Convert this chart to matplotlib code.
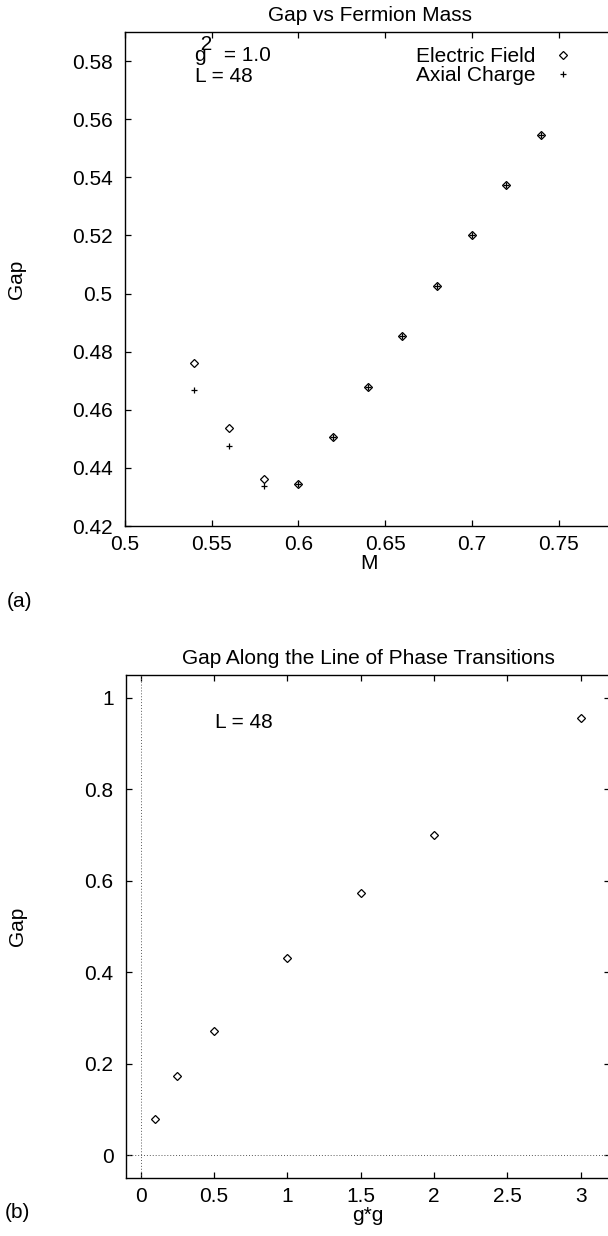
import matplotlib
matplotlib.use("Agg")
import matplotlib.pyplot as plt
from matplotlib.ticker import FuncFormatter, MultipleLocator

# panel (a): gap vs fermion mass, g^2 = 1.0, L = 48
mass = [0.54, 0.56, 0.58, 0.60, 0.62, 0.64, 0.66, 0.68, 0.70, 0.72, 0.74]
gap_electric = [0.4762, 0.4538, 0.4363, 0.4344, 0.4505, 0.4679, 0.4853, 0.5027, 0.5200, 0.5374, 0.5547]
gap_axial = [0.4668, 0.4477, 0.4337, 0.4344, 0.4505, 0.4679, 0.4853, 0.5027, 0.5200, 0.5374, 0.5547]

# panel (b): gap along the line of phase transitions, L = 48
coupling = [0.1, 0.25, 0.5, 1.0, 1.5, 2.0, 3.0]
gap_line = [0.080, 0.172, 0.271, 0.431, 0.574, 0.701, 0.955]

W, H = 608, 1236
FS = 15
plt.rcParams["font.family"] = ["Liberation Sans", "DejaVu Sans"]
plt.rcParams["font.size"] = FS


def fx(x):
    return x / W


def fy(y):
    return 1 - y / H


def gfmt(v, _):
    return f"{v:g}" if abs(v) > 1e-9 else "0"


def style_axes(ax):
    for s in ax.spines.values():
        s.set_linewidth(1.0)
    ax.tick_params(direction="in", length=4.5, width=0.9, top=True, right=True,
                   labelsize=FS)
    ax.tick_params(axis="x", pad=6.5)
    ax.tick_params(axis="y", pad=9)
    ax.xaxis.set_major_formatter(FuncFormatter(gfmt))
    ax.yaxis.set_major_formatter(FuncFormatter(gfmt))


fig = plt.figure(figsize=(W / 100, H / 100), dpi=100)

# ---- panel (a)
left, right, top, bottom = 125, 614, 32, 526
ax1 = fig.add_axes([fx(left), fy(bottom), (right - left) / W, (bottom - top) / H])
ax1.plot(mass, gap_electric, ls="none", marker="D", ms=3.7, mfc="white", mec="black",
         mew=0.9, label="Electric Field")
ax1.plot(mass, gap_axial, ls="none", marker="+", ms=5, mec="black", mew=0.9,
         label="Axial Charge")
ax1.set_xlim(0.5, 0.5 + (right - left) / 86.7 * 0.05)
ax1.set_ylim(0.42, 0.59)
ax1.xaxis.set_major_locator(MultipleLocator(0.05))
ax1.yaxis.set_major_locator(MultipleLocator(0.02))
style_axes(ax1)
ax1.set_title("Gap vs Fermion Mass", fontsize=FS, pad=8)
ax1.set_xlabel("M", fontsize=FS, labelpad=0)
ax1.set_ylabel("Gap", fontsize=FS, va="center")
ax1.yaxis.set_label_coords((17 - left) / (right - left), 0.5)
ax1.legend(loc="upper right", bbox_to_anchor=(fx(573), fy(47)),
           bbox_transform=fig.transFigure, frameon=False, markerfirst=False,
           handlelength=1.0, handletextpad=0.8, labelspacing=0.0,
           borderpad=0, borderaxespad=0, fontsize=FS)
# gnuplot-style exponent sitting above the g
fig.text(fx(195), fy(65), " 2\ng   = 1.0", fontsize=FS, ha="left", va="bottom",
         linespacing=0.5)
fig.text(fx(195), fy(77), "L = 48", fontsize=FS, ha="left", va="center")
fig.text(fx(7), fy(602), "(a)", fontsize=FS, ha="left", va="center")

# ---- panel (b)
left, right, top, bottom = 126, 610, 675, 1178
ax2 = fig.add_axes([fx(left), fy(bottom), (right - left) / W, (bottom - top) / H])
ax2.axhline(0, color="0.35", lw=0.7, ls=(0, (1, 2)))
ax2.axvline(0, color="0.35", lw=0.7, ls=(0, (1, 2)))
ax2.plot(coupling, gap_line, ls="none", marker="D", ms=3.7, mfc="white", mec="black",
         mew=0.9)
ax2.set_xlim(-0.1, 3.2)
ax2.set_ylim(-0.05, 1.05)
ax2.xaxis.set_major_locator(MultipleLocator(0.5))
ax2.yaxis.set_major_locator(MultipleLocator(0.2))
style_axes(ax2)
ax2.set_title("Gap Along the Line of Phase Transitions", fontsize=FS, pad=8)
ax2.set_xlabel("g*g", fontsize=FS, labelpad=0)
ax2.set_ylabel("Gap", fontsize=FS, va="center")
ax2.yaxis.set_label_coords((17 - left) / (right - left), 0.5)
fig.text(fx(215), fy(722), "L = 48", fontsize=FS, ha="left", va="center")
fig.text(fx(5), fy(1213), "(b)", fontsize=FS, ha="left", va="center")

fig.savefig("out.png", dpi=100)
